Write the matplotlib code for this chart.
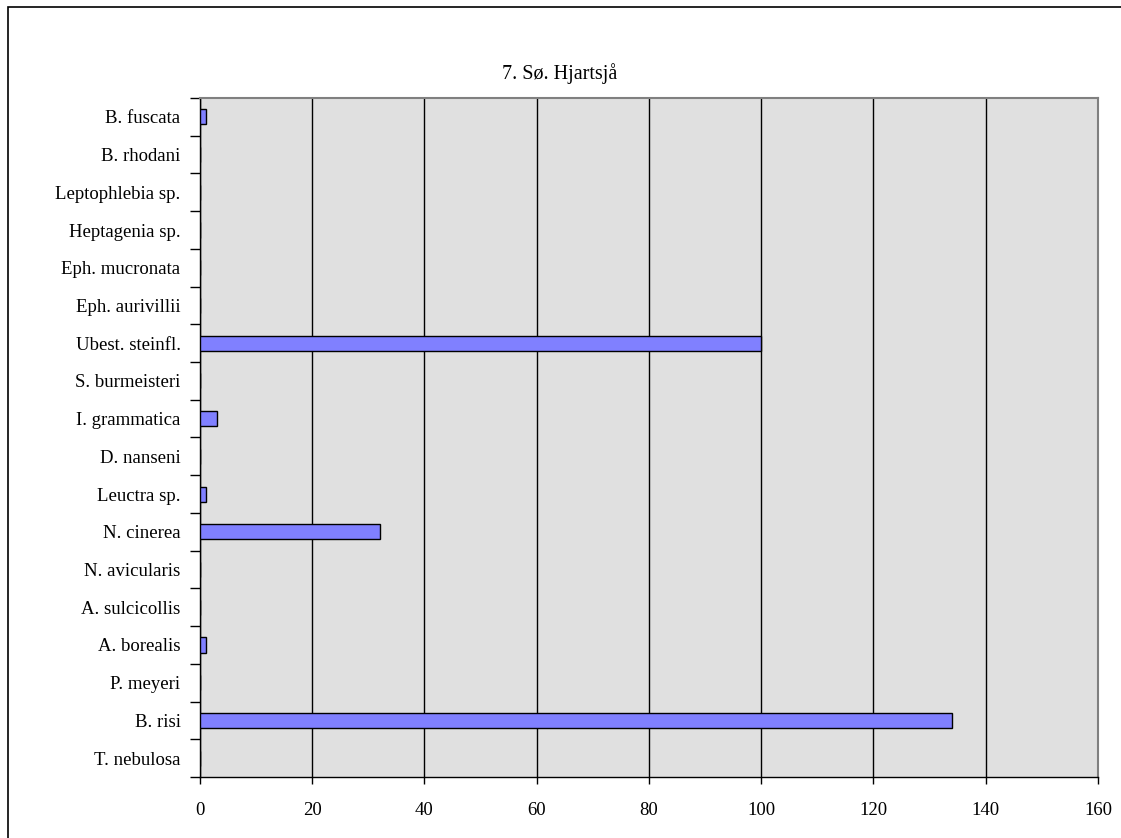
import numpy as np
import matplotlib.pyplot as plt
from matplotlib.patches import Rectangle

# species, top to bottom as shown in the chart
species = ["B. fuscata", "B. rhodani", "Leptophlebia sp.", "Heptagenia sp.",
           "Eph. mucronata", "Eph. aurivillii", "Ubest. steinfl.", "S. burmeisteri",
           "I. grammatica", "D. nanseni", "Leuctra sp.", "N. cinerea",
           "N. avicularis", "A. sulcicollis", "A. borealis", "P. meyeri",
           "B. risi", "T. nebulosa"]
counts = [1, 0, 0, 0, 0, 0, 100, 0, 3, 0, 1, 32, 0, 0, 1, 0, 134, 0]
x_ticks = [0, 20, 40, 60, 80, 100, 120, 140, 160]
title = "7. Sø. Hjartsjå"

plt.rcParams['font.family'] = ['Liberation Serif', 'DejaVu Serif']

W, H = 1121, 838
fig = plt.figure(figsize=(W / 100, H / 100), dpi=100)

# outer chart frame (runs off the right and bottom edge like the source)
fig.patches.append(Rectangle((8 / W, -0.05), 1.2, 1 - 7 / H + 0.05, transform=fig.transFigure,
                             fill=False, edgecolor='black', linewidth=1.2, clip_on=False))

ax = fig.add_axes([200 / W, (H - 777) / H, 898 / W, 679 / H])
ax.set_facecolor('#E0E0E0')

ypos = np.arange(len(species))
ax.barh(ypos, counts, height=0.4, color='#8080FF', edgecolor='black', linewidth=1, zorder=3)

ax.set_xlim(0, 160)
ax.set_ylim(len(species) - 0.5, -0.5)
ax.set_xticks(x_ticks)
ax.set_xticklabels([str(t) for t in x_ticks], fontsize=13.5)
ax.xaxis.grid(True, color='black', linewidth=1, zorder=1)
ax.set_axisbelow(True)

ax.set_yticks(ypos)
ax.set_yticklabels(species, fontsize=13.5)
ax.set_yticks(np.arange(-0.5, len(species), 1), minor=True)
ax.tick_params(axis='y', which='major', length=0, pad=14)
ax.tick_params(axis='y', which='minor', length=7, width=1, direction='out')
ax.tick_params(axis='x', length=5, width=1, direction='out', pad=13)

for side in ['top', 'right']:
    ax.spines[side].set_color('#808080')
    ax.spines[side].set_linewidth(1.5)
for side in ['left', 'bottom']:
    ax.spines[side].set_color('black')
    ax.spines[side].set_linewidth(1)

fig.text(560 / W, 1 - 74 / H, title, ha='center', va='center', fontsize=14.5)

fig.savefig('out.png', dpi=100)
